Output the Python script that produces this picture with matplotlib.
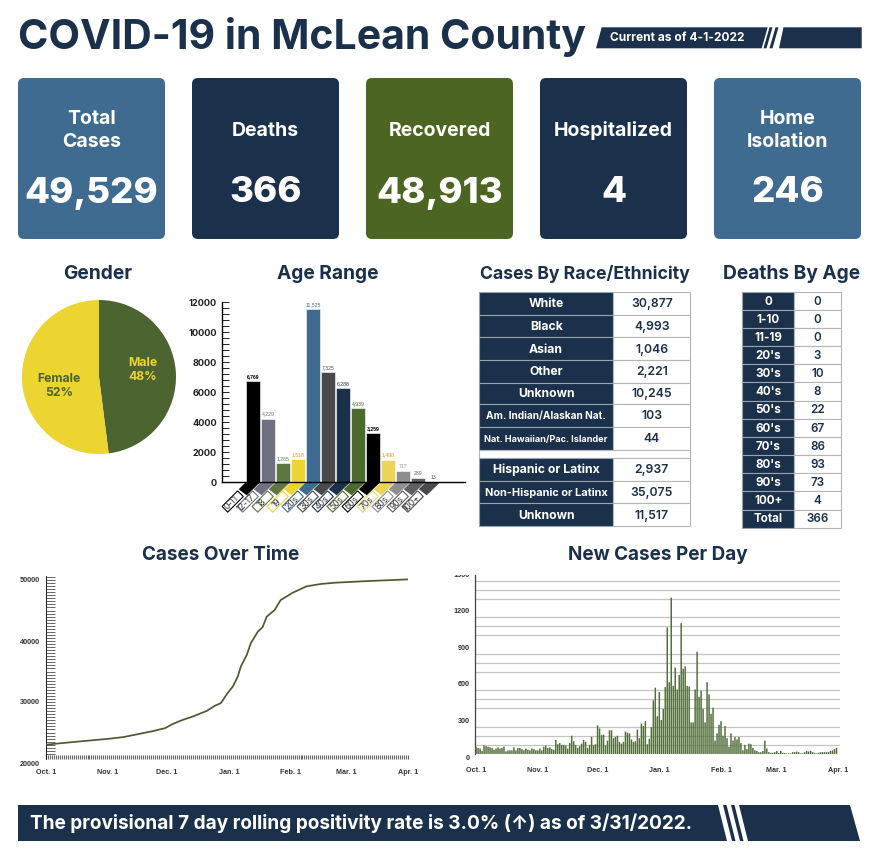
import matplotlib
matplotlib.use("Agg")
import matplotlib.pyplot as plt
from matplotlib.patches import FancyBboxPatch, Polygon, Rectangle
from matplotlib.ticker import MultipleLocator, FixedLocator
from matplotlib.transforms import ScaledTranslation

W, H = 880, 859
NAVY = "#1b304a"; BLUE = "#3e6b8f"; GREEN = "#4d6522"; YELLOW = "#ecd431"
plt.rcParams["font.family"] = ["Inter", "DejaVu Sans"]

# ---------- data ----------
card_titles = ["Total\nCases", "Deaths", "Recovered", "Hospitalized", "Home\nIsolation"]
card_values = ["49,529", "366", "48,913", "4", "246"]
gender_labels = ["Male", "Female"]
gender_values = [48, 52]
age_labels = ["0-11", "12-17", "18", "19", "20s", "30s", "40s", "50s", "60s", "70s", "80s", "90s", "100+"]
age_values = [6769, 4229, 1265, 1518, 11525, 7325, 6288, 4939, 3259, 1490, 717, 289, 13]
race_labels = ["White", "Black", "Asian", "Other", "Unknown", "Am. Indian/Alaskan Nat.", "Nat. Hawaiian/Pac. Islander"]
race_values = ["30,877", "4,993", "1,046", "2,221", "10,245", "103", "44"]
ethn_labels = ["Hispanic or Latinx", "Non-Hispanic or Latinx", "Unknown"]
ethn_values = ["2,937", "35,075", "11,517"]
death_labels = ["0", "1-10", "11-19", "20's", "30's", "40's", "50's", "60's", "70's", "80's", "90's", "100+", "Total"]
death_values = ["0", "0", "0", "3", "10", "8", "22", "67", "86", "93", "73", "4", "366"]
month_labels = ["Oct. 1", "Nov. 1", "Dec. 1", "Jan. 1", "Feb. 1", "Mar. 1", "Apr. 1"]
month_days = [0, 31, 61, 92, 123, 151, 182]
cum_days = [0, 15.5, 32, 39, 46.5, 54, 60, 64, 69, 74, 81, 85, 88, 91, 94, 96.5, 98, 101, 103, 106.5, 109,
            111, 115, 118, 124, 131, 138, 145, 162, 182]
cum_cases = [23000, 23490, 23980, 24250, 24740, 25230, 25720, 26430, 27090, 27630, 28560, 29380, 29820,
             31290, 32540, 34180, 35800, 37700, 39630, 41500, 42300, 43980, 45070, 46700, 47900, 48960,
             49340, 49550, 49830, 50100]
new_oct = [60, 50, 45, 25, 70, 65, 60, 55, 50, 35, 45, 55, 45, 50, 60, 20, 30, 30, 30, 55, 30, 50, 50, 40, 30, 45, 35, 30, 45, 40, 30]
new_nov = [30, 45, 30, 60, 70, 50, 55, 40, 35, 115, 80, 90, 75, 75, 70, 45, 90, 150, 105, 75, 50, 65, 85, 115, 100, 50, 75, 140, 75, 80]
new_dec = [235, 210, 155, 160, 70, 110, 195, 195, 130, 140, 150, 100, 85, 100, 185, 175, 170, 120, 100, 105, 200, 130, 250, 230, 270, 80, 125, 220, 440, 545, 310]
new_jan = [510, 280, 370, 550, 1040, 590, 1285, 560, 710, 530, 650, 1075, 700, 720, 560, 555, 260, 260, 530, 840, 470, 520, 370, 260, 590, 490, 330, 380, 110, 170, 240]
new_feb = [270, 150, 230, 130, 60, 170, 110, 140, 120, 140, 90, 30, 75, 40, 85, 80, 50, 30, 25, 15, 15, 25, 110, 45, 15, 10, 10, 15]
new_mar = [25, 8, 25, 10, 8, 5, 5, 5, 15, 15, 20, 15, 5, 5, 15, 25, 20, 25, 15, 10, 5, 10, 15, 15, 15, 15, 15, 25, 30, 40, 50]
new_cases = new_oct + new_nov + new_dec + new_jan + new_feb + new_mar

# ---------- layout ----------
fig = plt.figure(figsize=(W / 100, H / 100), dpi=100, facecolor="white")

def px_axes(l, t, r, b, **kw):
    return fig.add_axes([l / W, 1 - b / H, (r - l) / W, (b - t) / H], **kw)

bg = px_axes(0, 0, W, H)
bg.set_xlim(0, W); bg.set_ylim(H, 0); bg.axis("off")

def T(x, y, s, size, color=NAVY, weight="bold", ha="center", **kw):
    return bg.text(x, y, s, fontsize=size, color=color, fontweight=weight, ha=ha, va="center", **kw)

# header
T(18, 37, "COVID-19 in McLean County", 29.5, ha="left")
bg.add_patch(Polygon([(596, 48.3), (601.7, 27.3), (767.7, 27.3), (761.7, 48.3)], fc=NAVY, ec="none"))
for a, b in [(769.5, 763.5), (775.5, 769.5)]:
    bg.add_patch(Polygon([(a, 27.3), (a + 3, 27.3), (b + 3, 48.3), (b, 48.3)], fc=NAVY, ec="none"))
bg.add_patch(Polygon([(779, 48.3), (783.5, 27.3), (861.7, 27.3), (861.7, 48.3)], fc=NAVY, ec="none"))
T(610, 38, "Current as of 4-1-2022", 8.6, color="white", ha="left")

# cards
card_x = [18, 192, 366, 540, 714]
card_c = [BLUE, NAVY, GREEN, NAVY, BLUE]
for x, c, t, v in zip(card_x, card_c, card_titles, card_values):
    bg.add_patch(FancyBboxPatch((x + 6, 84), 135, 149, boxstyle="round,pad=6", fc=c, ec="none"))
    T(x + 73.5, 130.5, t, 14, color="white", linespacing=1.3)
    T(x + 73.5, 193, v, 26.3, color="white", weight=800)

# section titles
for x, y, s, fs in [(98, 274, "Gender", 13.8), (328, 274, "Age Range", 13.8), (585, 274, "Cases By Race/Ethnicity", 12.7),
                    (792, 274, "Deaths By Age", 13.8), (221, 555, "Cases Over Time", 13.6), (658, 555, "New Cases Per Day", 13.6)]:
    T(x, y, s, fs)

# pie
pax = px_axes(22, 300, 176, 454)
pax.pie(gender_values, colors=["#4b6430", YELLOW], startangle=90, counterclock=False, radius=1)
pax.set_xlim(-1, 1); pax.set_ylim(-1, 1)
pax.text(0.57, 0.09, f"{gender_labels[0]}\n{gender_values[0]}%", color=YELLOW, fontsize=8.8, fontweight="bold",
         ha="center", va="center")
pax.text(-0.52, -0.12, f"{gender_labels[1]}\n{gender_values[1]}%", color="#4b6430", fontsize=8.8, fontweight="bold",
         ha="center", va="center")

# age range bars
age_colors = ["#000000", "#6f7180", "#5f7642", YELLOW, BLUE, "#4a4a4c", NAVY, "#4c6a2e", "#000000",
              "#ecd35a", "#8e8e90", "#5f5f61", "#4a4a4c"]
label_colors = ["#000000", "#6f7180", "#5f7642", "#e08a2e", BLUE, "#4a4a4c", NAVY, "#4c6a2e", "#000000",
                "#e08a2e", "#8e8e90", "#5f5f61", "#4a4a4c"]
aax = px_axes(221.7, 302.3, 465, 482)
aax.set_xlim(-2.1, 14.12); aax.set_ylim(0, 12000)
xs = list(range(len(age_values)))
aax.bar(xs, age_values, width=0.96, color=age_colors, edgecolor="white", linewidth=0.4, zorder=3)
kx = 1 / 15; ky = 12000 / 179.7; hw = 0.48
for i, c in zip(xs, age_colors):
    aax.add_patch(Polygon([(i - hw, 0), (i + hw, 0), (i + hw - 13.7 * kx, -13.3 * ky), (i - hw - 7.3 * kx, -7.3 * ky)],
                          fc=c, ec="none", clip_on=False, zorder=2))
    # label plate: rotated rectangle at the end of the band
    cx, cy, hl, hwid = -20.5, -19.5, 11 * 0.7071, 4 * 0.7071
    plate = [(cx + hl + hwid, cy + hl - hwid), (cx + hl - hwid, cy + hl + hwid),
             (cx - hl - hwid, cy - hl + hwid), (cx - hl + hwid, cy - hl - hwid)]
    aax.add_patch(Polygon([(i + px * kx, py * ky) for px, py in plate], fc="white", ec=c, lw=0.8,
                          joinstyle="round", clip_on=False, zorder=4))
for i, v, c in zip(xs, age_values, label_colors):
    aax.text(i, v + 130, f"{v:,}", ha="center", va="bottom", fontsize=3.7, color=c, clip_on=False,
             family=["Liberation Sans", "DejaVu Sans"], fontweight="bold" if c == "#000000" else "normal")
for s in ["top", "right"]:
    aax.spines[s].set_visible(False)
aax.spines["bottom"].set_zorder(4)
aax.spines["bottom"].set_linewidth(1.0); aax.spines["left"].set_linewidth(1.0)
aax.yaxis.set_major_locator(MultipleLocator(2000)); aax.yaxis.set_minor_locator(MultipleLocator(400))
aax.tick_params(axis="y", which="both", direction="in", length=5, width=0.7, pad=3.5, labelsize=6.6, colors="#222222")
for lab in aax.get_yticklabels():
    lab.set_fontweight("bold")
aax.set_xticks(xs)
aax.set_xticklabels(age_labels, rotation=45, ha="center", va="center", rotation_mode="anchor", fontsize=6.2, color="#333333")
aax.tick_params(axis="x", length=0, pad=0)
aax.xaxis.set_zorder(6)
off = ScaledTranslation(-21.5 / 100, -21 / 100, fig.dpi_scale_trans)
for lab in aax.get_xticklabels():
    lab.set_transform(lab.get_transform() + off)

# tables
long_sizes = {"Am. Indian/Alaskan Nat.": 7.3, "Nat. Hawaiian/Pac. Islander": 6.6, "Non-Hispanic or Latinx": 7.9}
def table(rows, labels, values, x0, x1, x2, fs_label, fs_value):
    for (t, b), l, v in zip(rows, labels, values):
        bg.add_patch(Rectangle((x0, t), x1 - x0, b - t, fc=NAVY, ec="#9aa3ab", lw=0.8))
        bg.add_patch(Rectangle((x1, t), x2 - x1, b - t, fc="white", ec="#b5b5b5", lw=0.8))
        T((x0 + x1) / 2, (t + b) / 2 + 0.8, l, long_sizes.get(l, fs_label), color="white")
        T((x1 + x2) / 2, (t + b) / 2 + 0.8, v, fs_value, weight="semibold")

race_edges = [291.7, 314.7, 337.3, 360.3, 383, 404.3, 427, 450]
ethn_edges = [457.7, 480.7, 503.3, 526.3]
table(list(zip(race_edges, race_edges[1:])), race_labels, race_values, 479, 613.3, 690.3, 8.8, 8.8)
bg.add_patch(Rectangle((479, 450), 211.3, 7.7, fc="white", ec="#b5b5b5", lw=0.8))
table(list(zip(ethn_edges, ethn_edges[1:])), ethn_labels, ethn_values, 479, 613.3, 690.3, 8.8, 8.8)
drows = [(291.7 + i * 18.15, 291.7 + (i + 1) * 18.15) for i in range(len(death_labels))]
table(drows, death_labels, death_values, 742.3, 794, 841, 8.4, 8.4)

# cases over time
cax = px_axes(45.7, 576, 408, 763)
cax.set_xlim(0, 182); cax.set_ylim(20000, 20000 + 187 / 61 * 10000)
cax.plot(cum_days, cum_cases, color="#4c5a32", lw=1.25, zorder=5)
axis_y = 20574
for s in ["top", "right", "bottom"]:
    cax.spines[s].set_visible(False)
cax.spines["bottom"].set_position(("data", axis_y))
cax.spines["left"].set_bounds(axis_y, cax.get_ylim()[1])
cax.spines["left"].set_linewidth(0.6)
cax.set_xticks(month_days); cax.set_xticklabels(month_labels)
cax.xaxis.set_minor_locator(MultipleLocator(1))
cax.set_yticks([20000, 30000, 40000, 50000])
cax.yaxis.set_minor_locator(FixedLocator([21500 + 500 * i for i in range(59)]))
cax.tick_params(axis="x", which="both", direction="in", length=3.2, width=0.8, color="#666666", pad=7, labelsize=5.2, labelcolor="#333333")
cax.tick_params(axis="y", which="both", direction="in", length=6.7, width=0.7, color="#666666", pad=4, labelsize=5.2, labelcolor="#333333")
cax.yaxis.get_major_ticks()[0].tick1line.set_visible(False)
for lab in cax.get_xticklabels() + cax.get_yticklabels():
    lab.set_fontweight("bold"); lab.set_family(["Liberation Sans", "DejaVu Sans"])

# new cases per day
nax = px_axes(475.3, 754 - 1500 * 0.1217, 839.7, 754)
nax.set_xlim(-0.4, 182.6); nax.set_ylim(0, 1500)
bars = nax.bar(range(len(new_cases)), new_cases, width=0.75, color="#526e3a", zorder=3)
for b in bars:
    b.set_snap(False)
for s in ["top", "right", "bottom"]:
    nax.spines[s].set_visible(False)
nax.spines["left"].set_bounds(0, 1470); nax.spines["left"].set_linewidth(0.9); nax.spines["left"].set_color("#444444")
nax.set_axisbelow(True)
nax.set_xticks(month_days); nax.set_xticklabels(month_labels)
nax.set_yticks(range(0, 1501, 300))
nax.yaxis.set_minor_locator(FixedLocator([75 * i for i in range(1, 20)]))
nax.grid(axis="y", which="minor", color="#c4c4c4", lw=0.9)
nax.grid(axis="y", which="major", visible=False)
nax.tick_params(axis="both", which="both", length=0, labelsize=5.2, labelcolor="#333333")
nax.tick_params(axis="x", pad=9)
nax.tick_params(axis="y", pad=4)
shift = ScaledTranslation(0, -3 / 100, fig.dpi_scale_trans)
for lab in nax.get_yticklabels():
    lab.set_transform(lab.get_transform() + shift)
for lab in nax.get_xticklabels() + nax.get_yticklabels():
    lab.set_fontweight("bold"); lab.set_family(["Liberation Sans", "DejaVu Sans"])

# overlay: clips the top label
ov = px_axes(0, 0, W, H, zorder=10)
ov.set_xlim(0, W); ov.set_ylim(H, 0); ov.axis("off"); ov.patch.set_alpha(0)
ov.add_patch(Rectangle((450, 565), 24, 10, fc="white", ec="none"))

# footer banner
bg.add_patch(Polygon([(18, 805), (718, 805), (727, 841), (18, 841)], fc=NAVY, ec="none"))
for a in [723, 731]:
    bg.add_patch(Polygon([(a, 805), (a + 3.5, 805), (a + 12.5, 841), (a + 9, 841)], fc=NAVY, ec="none"))
bg.add_patch(Polygon([(739, 805), (850, 805), (860, 841), (748, 841)], fc=NAVY, ec="none"))
T(30, 823.5, "The provisional 7 day rolling positivity rate is 3.0% (\u2191) as of 3/31/2022.", 13.7, color="white", ha="left")

fig.savefig("out.png", dpi=100)
